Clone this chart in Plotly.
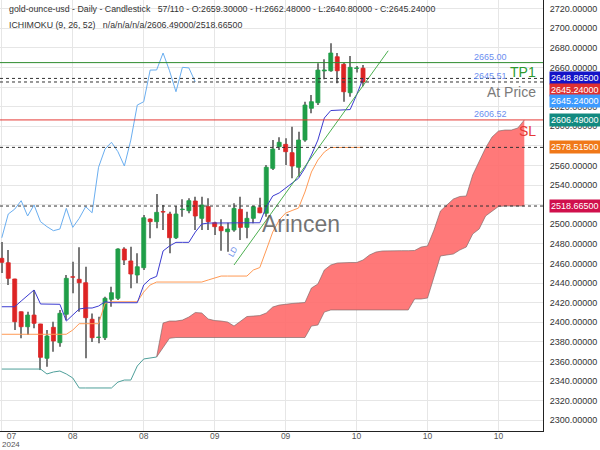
import plotly.graph_objects as go

# ---------------- data ----------------
opens = [2465.3, 2460.8, 2444.2, 2410.8, 2395.5, 2407.4, 2398.3, 2363.3, 2394.9, 2379.2,
         2408.2, 2446.5, 2443.9, 2440.4, 2403.1, 2384.5, 2384.3, 2423.5, 2424.5, 2474.8,
         2462.6, 2448.3, 2455.7, 2505.4, 2502.7, 2513.0, 2510.5, 2486.3, 2515.0, 2513.9,
         2523.8, 2506.1, 2518.0, 2501.6, 2497.6, 2492.4, 2494.2, 2515.3, 2496.9, 2506.1,
         2516.9, 2511.3, 2557.1, 2579.2, 2581.6, 2573.1, 2558.2, 2586.0, 2618.4, 2624.1,
         2656.5, 2656.7, 2671.0, 2663.3, 2634.3, 2659.0, 2659.30]
highs = [2481.9, 2473.8, 2444.5, 2411.0, 2410.8, 2433.0, 2398.5, 2392.1, 2400.6, 2412.6,
         2448.3, 2461.8, 2476.5, 2456.7, 2409.0, 2405.7, 2426.1, 2436.3, 2475.5, 2476.5,
         2477.1, 2470.4, 2509.5, 2506.0, 2530.9, 2519.7, 2512.9, 2518.7, 2525.5, 2526.5,
         2528.2, 2528.2, 2526.5, 2502.7, 2505.1, 2501.6, 2521.4, 2528.2, 2512.9, 2519.0,
         2527.1, 2560.5, 2586.0, 2588.8, 2587.8, 2599.6, 2594.5, 2625.1, 2631.9, 2664.3,
         2668.4, 2684.7, 2674.8, 2664.9, 2671.7, 2661.5, 2662.48]
lows = [2450.3, 2438.1, 2392.1, 2383.7, 2387.0, 2393.9, 2351.3, 2354.7, 2370.0, 2375.1,
        2402.3, 2429.6, 2410.8, 2363.3, 2380.0, 2378.6, 2382.0, 2415.9, 2422.8, 2458.5,
        2434.7, 2439.8, 2453.4, 2485.7, 2495.9, 2494.2, 2470.4, 2485.0, 2507.8, 2511.3,
        2494.2, 2494.2, 2494.2, 2489.1, 2473.1, 2472.0, 2492.4, 2484.0, 2485.7, 2501.0,
        2511.3, 2507.8, 2555.4, 2575.8, 2560.5, 2546.9, 2548.6, 2584.3, 2613.3, 2621.7,
        2648.0, 2655.7, 2643.9, 2625.1, 2630.2, 2655.0, 2640.80]
closes = [2461.2, 2444.9, 2400.6, 2395.5, 2407.4, 2399.0, 2364.3, 2386.0, 2380.9, 2409.2,
          2444.9, 2446.0, 2440.4, 2404.7, 2384.3, 2385.0, 2424.5, 2430.2, 2474.8, 2463.6,
          2449.3, 2456.7, 2506.7, 2502.7, 2512.2, 2512.5, 2486.3, 2510.5, 2515.5, 2524.1,
          2508.5, 2519.7, 2502.7, 2497.6, 2493.5, 2495.2, 2516.3, 2496.9, 2506.1, 2518.0,
          2511.8, 2558.2, 2576.8, 2583.7, 2574.1, 2559.5, 2586.0, 2621.7, 2625.1, 2657.4,
          2657.5, 2674.8, 2656.7, 2635.3, 2660.2, 2659.6, 2645.24]

tenkan = [2415.9, 2415.9, 2415.9, 2421.7, 2427.3, 2433.0, 2418.7, 2418.4, 2418.4, 2418.4,
          2401.3, 2407.4, 2413.6, 2414.6, 2414.6, 2416.6, 2421.0, 2420.0, 2420.0, 2420.0,
          2420.0, 2420.0, 2438.1, 2444.2, 2446.9, 2472.8, 2477.9, 2481.6, 2481.6, 2481.6,
          2492.1, 2500.3, 2501.3, 2501.3, 2501.3, 2501.3, 2501.3, 2501.3, 2501.3, 2501.3,
          2501.6, 2517.6, 2528.9, 2532.0, 2537.0, 2542.0, 2547.0, 2557.4, 2570.7, 2586.0,
          2608.5, 2616.1, 2616.6, 2616.6, 2617.1, 2632.0, 2648.865]
kijun = [2387.8, 2387.8, 2387.8, 2387.8, 2387.8, 2387.8, 2387.8, 2387.8, 2387.8, 2387.8,
         2387.8, 2392.1, 2398.6, 2398.6, 2398.6, 2398.6, 2419.4, 2421.0, 2421.0, 2421.0,
         2421.0, 2421.0, 2430.9, 2438.1, 2441.1, 2441.1, 2441.1, 2441.1, 2441.1, 2441.1,
         2441.1, 2441.1, 2443.2, 2444.9, 2447.2, 2447.2, 2447.2, 2447.2, 2447.2, 2453.4,
         2455.9, 2473.8, 2492.1, 2504.4, 2511.5, 2514.1, 2516.6, 2533.0, 2553.4, 2565.6,
         2573.8, 2578.4, 2578.515, 2578.515, 2578.515, 2578.515, 2578.515]
chikou = [2486.3, 2510.5, 2515.5, 2524.1, 2508.5, 2519.7, 2502.7, 2497.6, 2493.5, 2495.2,
          2516.3, 2496.9, 2506.1, 2518.0, 2511.8, 2558.2, 2576.8, 2583.7, 2574.1, 2559.5,
          2586.0, 2621.7, 2625.1, 2657.4, 2657.5, 2674.8, 2656.7, 2635.3, 2660.2, 2659.6,
          2645.24]
span_past = [2352.3, 2352.3, 2352.3, 2352.3, 2352.3, 2352.3, 2352.3, 2347.3, 2349.3, 2350.3,
             2347.3, 2343.2, 2333.0, 2333.0, 2333.0, 2333.0, 2333.0, 2333.0, 2339.0, 2341.1,
             2341.1, 2355.4, 2362.6, 2363.6, 2364.6]
cloud_start = 24
span_a = [2364.6, 2399.3, 2401.3, 2401.3, 2402.3, 2405.4, 2410.0, 2409.5, 2403.4, 2401.8,
          2401.3, 2400.3, 2396.2, 2401.3, 2405.9, 2406.4, 2406.9, 2409.5, 2415.6, 2417.6,
          2418.7, 2419.2, 2419.7, 2420.2, 2435.0, 2439.1, 2453.4, 2458.5, 2460.5, 2461.0,
          2461.0, 2461.0, 2463.6, 2468.7, 2471.7, 2472.8, 2473.1, 2473.1, 2473.1, 2473.1,
          2473.3, 2476.8, 2477.9, 2494.2, 2513.6, 2519.7, 2525.8, 2528.4, 2528.9, 2550.3,
          2563.6, 2577.9, 2589.1, 2595.2, 2596.2, 2596.2, 2598.3, 2606.49]
span_b = [2364.6, 2373.8, 2383.7, 2384.5, 2384.5, 2384.5, 2384.5, 2384.5, 2384.5, 2384.5,
          2384.5, 2384.5, 2384.5, 2384.5, 2384.5, 2384.5, 2384.5, 2384.5, 2384.5, 2384.5,
          2384.5, 2384.5, 2384.5, 2384.5, 2396.2, 2397.2, 2410.5, 2412.6, 2412.6, 2412.6,
          2412.6, 2412.6, 2412.6, 2412.6, 2412.6, 2412.6, 2412.6, 2412.6, 2412.6, 2412.6,
          2423.8, 2423.8, 2424.8, 2447.2, 2467.7, 2468.7, 2469.7, 2473.8, 2476.8, 2490.1,
          2495.2, 2508.5, 2513.6, 2518.2, 2518.665, 2518.665, 2518.665, 2518.665]

trend_x = [36.0, 59.9]
trend_y = [2458.5, 2677.1]

tp1_level = 2665.00
at_price_label = 2645.51
tenkan_last = 2648.865
close_last = 2645.24
sl_level = 2606.52
senkou_a_last = 2606.49
kijun_last = 2578.515
senkou_b_last = 2518.665

tick_pos = [1.5, 11, 22, 33, 44, 55, 66, 77]
tick_text = ["07", "08", "08", "09", "09", "10", "10", "10"]
year_label = "2024"

header1 = ("gold-ounce-usd - Daily - Candlestick\u00a0\u00a0\u00a057/110 - O:2659.30000 - "
           "H:2662.48000 - L:2640.80000 - C:2645.24000")
header2 = "ICHIMOKU (9, 26, 52)\u00a0\u00a0\u00a0n/a/n/a/n/a/2606.49000/2518.66500"

# ---------------- figure ----------------
FONT = "Liberation Sans, Arial, sans-serif"
GREEN = "#1f9e48"
RED = "#dd2424"

n = len(closes)
idx = list(range(n))
fig = go.Figure()

# cloud
cx = list(range(cloud_start, cloud_start + len(span_a)))
fig.add_trace(go.Scatter(x=cx, y=span_b, mode="lines",
                         line=dict(color="rgba(120,100,100,0.8)", width=0.8), hoverinfo="skip"))
fig.add_trace(go.Scatter(x=cx, y=span_a, mode="lines", fill="tonexty",
                         fillcolor="rgba(255,110,110,0.92)",
                         line=dict(color="rgba(120,100,100,0.8)", width=0.8), hoverinfo="skip"))
fig.add_trace(go.Scatter(x=list(range(len(span_past))), y=span_past, mode="lines",
                         line=dict(color="#4e9f9a", width=1), hoverinfo="skip"))

# wicks
fig.add_trace(go.Bar(x=idx, base=lows, y=[h - l for h, l in zip(highs, lows)], width=0.16,
                     marker=dict(color="#7a7a7a", line=dict(width=0)), hoverinfo="skip"))
# bodies
up = [i for i in idx if closes[i] >= opens[i]]
dn = [i for i in idx if closes[i] < opens[i]]
fig.add_trace(go.Bar(x=up, base=[opens[i] for i in up],
                     y=[closes[i] - opens[i] for i in up], width=0.62,
                     marker=dict(color=GREEN, line=dict(color=GREEN, width=0.8)), hoverinfo="skip"))
fig.add_trace(go.Bar(x=dn, base=[closes[i] for i in dn],
                     y=[opens[i] - closes[i] for i in dn], width=0.62,
                     marker=dict(color=RED, line=dict(color=RED, width=0.8)), hoverinfo="skip"))

# lines
fig.add_trace(go.Scatter(x=idx, y=kijun, mode="lines", line=dict(color="#ff9a55", width=1), hoverinfo="skip"))
fig.add_trace(go.Scatter(x=idx, y=tenkan, mode="lines", line=dict(color="#3b3bd0", width=1), hoverinfo="skip"))
fig.add_trace(go.Scatter(x=list(range(len(chikou))), y=chikou, mode="lines",
                         line=dict(color="#6aaef0", width=1), hoverinfo="skip"))
fig.add_trace(go.Scatter(x=trend_x, y=trend_y, mode="lines",
                         line=dict(color="#4caf50", width=1), hoverinfo="skip"))

shapes = []
def hline(y, color, dash="solid", width=1):
    shapes.append(dict(type="line", xref="paper", x0=0, x1=1, yref="y", y0=y, y1=y,
                       line=dict(color=color, width=width, dash=dash)))

hline(tp1_level, "#2e8b2e")
hline(tenkan_last, "#333333", "dot")
hline(close_last, "#333333", "dot")
hline(sl_level, "#e53935")
hline(kijun_last, "#333333", "dot")
hline(senkou_b_last, "#333333", "dot")

ann = []
def label(text, y, bg, yshift=0):
    ann.append(dict(xref="paper", x=1, xshift=6, xanchor="left", yref="y", y=y, yshift=yshift,
                    yanchor="middle", text=text, showarrow=False, bgcolor=bg, borderpad=1,
                    font=dict(family=FONT, size=9, color="white")))

label("%.5f" % tenkan_last, tenkan_last, "#1414c8")
label("%.5f" % close_last, close_last, "#e03030", -8)
label("%.5f" % close_last, close_last, "#3d9bff", -19)
label("%.5f" % senkou_a_last, senkou_a_last, "#128a80")
label("%.5f" % kijun_last, kijun_last, "#f07818")
label("%.5f" % senkou_b_last, senkou_b_last, "#d0104c")

def small(text, y):
    ann.append(dict(xref="paper", x=508 / 543, xanchor="right", yref="y", y=y, yanchor="bottom",
                    text=text, showarrow=False, borderpad=0,
                    font=dict(family=FONT, size=9, color="#6b8ef0")))

small("%.2f" % tp1_level, tp1_level)
small("%.2f" % at_price_label, at_price_label)
small("%.2f" % sl_level, sl_level)

def big(text, y, color, yshift):
    ann.append(dict(xref="paper", x=537 / 543, xanchor="right", yref="y", y=y, yanchor="top",
                    yshift=yshift, text=text, showarrow=False, borderpad=0,
                    font=dict(family=FONT, size=14, color=color)))

big("TP1", tp1_level, "#2e9a2e", 0)
big("At Price", close_last, "#7a7a7a", -1)
big("SL", sl_level, "#e53935", -2)

ann.append(dict(xref="paper", x=0.012, xanchor="left", yref="paper", y=1, yanchor="top", yshift=-2,
                text=header1, showarrow=False, font=dict(family=FONT, size=8.8, color="#333")))
ann.append(dict(xref="paper", x=0.012, xanchor="left", yref="paper", y=1, yanchor="top", yshift=-18,
                text=header2, showarrow=False, font=dict(family=FONT, size=8.8, color="#333")))
ann.append(dict(xref="paper", x=301 / 543, yref="paper", y=1 - 224 / 431, text="Arincen",
                showarrow=False, font=dict(family=FONT, size=23, color="rgba(70,70,70,0.75)")))
ann.append(dict(xref="x", x=35.9, yref="y", y=2472, text="LD", textangle=-60, showarrow=False,
                font=dict(family=FONT, size=8, color="#6b8ee8")))
ann.append(dict(xref="x", x=tick_pos[0], yref="paper", y=-19 / 431, yanchor="bottom", yshift=0,
                text=year_label, showarrow=False, borderpad=0,
                font=dict(family=FONT, size=8, color="#555")))

fig.update_layout(
    width=600, height=450,
    margin=dict(l=0, r=57, t=0, b=19, autoexpand=False),
    paper_bgcolor="white", plot_bgcolor="white",
    showlegend=False, barmode="overlay",
    font=dict(family=FONT, size=9, color="#333"),
    shapes=shapes, annotations=ann,
    xaxis=dict(range=[-0.28, 83.9], tickvals=tick_pos, ticktext=tick_text, showgrid=False,
               automargin=False, ticklabelstandoff=-3,
               minor=dict(tick0=0, dtick=11, showgrid=True, gridcolor="#e6e6e6", gridwidth=1),
               showline=True, linecolor="#222", linewidth=1, zeroline=False, ticks="",
               tickfont=dict(family=FONT, size=8.5, color="#555")),
    yaxis=dict(side="right", range=[2289.1, 2728.9], tick0=2300, dtick=20, tickformat=".5f",
               automargin=False,
               showgrid=True, gridcolor="#e6e6e6", showline=True, linecolor="#222", linewidth=1,
               zeroline=False, ticks="outside", ticklen=4, tickcolor="rgba(0,0,0,0)",
               tickfont=dict(family=FONT, size=9, color="#333")),
)

fig.write_html("out.html")
